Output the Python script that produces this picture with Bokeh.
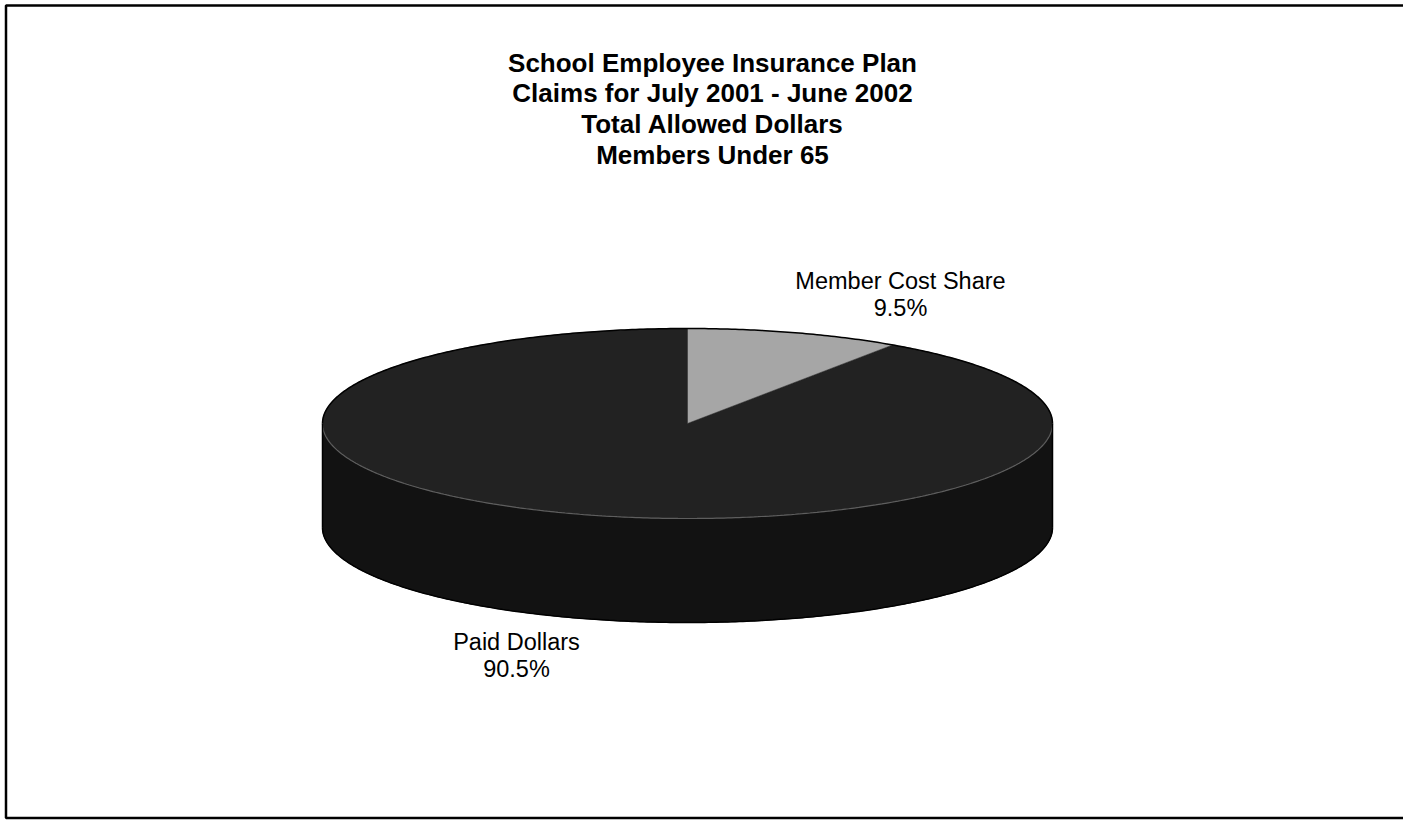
import numpy as np
from bokeh.plotting import figure
from bokeh.models import Range1d
from bokeh.core.properties import value
from bokeh.embed import file_html
from bokeh.resources import INLINE

# ---- data ----
title_lines = ["School Employee Insurance Plan",
               "Claims for July 2001 - June 2002",
               "Total Allowed Dollars",
               "Members Under 65"]
categories = ["Member Cost Share", "Paid Dollars"]
shares = [9.5, 90.5]

# ---- layout / style ----
W, H = 1403, 820
cx, cy, a, b, depth = 687, 423, 365, 95, 104
top_colors = ["#a6a6a6", "#222222"]
side_colors = ["#7a7a7a", "#121212"]
label_pos = [(900, 280), (516, 641)]
label_gap = 27
FONT = value("Liberation Sans")

p = figure(width=W, height=H, x_range=Range1d(0, W), y_range=Range1d(H, 0),
           output_backend="svg", toolbar_location=None, min_border=0)
p.axis.visible = False
p.grid.visible = False
p.outline_line_color = None
p.background_fill_color = "white"
p.border_fill_color = "white"

def pt(t, dy=0.0):
    return cx + a * np.cos(t), cy - b * np.sin(t) + dy

# slice angle ranges: start at 12 o'clock, clockwise
starts, ends = [], []
ang = np.pi / 2
for s in shares:
    sweep = 2 * np.pi * s / 100.0
    starts.append(ang)
    ends.append(ang - sweep)
    ang -= sweep

# side (front half: angles where sin < 0)
for i in range(len(shares)):
    hi, lo = starts[i], ends[i]
    for k in range(-2, 2):
        f_lo, f_hi = -np.pi + 2 * np.pi * k, 0 + 2 * np.pi * k
        s_lo, s_hi = max(lo, f_lo), min(hi, f_hi)
        if s_hi - s_lo > 1e-6:
            t = np.linspace(s_lo, s_hi, 200)
            xt, yt = pt(t)
            xb, yb = pt(t[::-1], depth)
            xs = np.concatenate([xt, xb])
            ys = np.concatenate([yt, yb])
            p.patch(xs, ys, fill_color=side_colors[i], line_color=side_colors[i], line_width=1)

# top wedges
for i in range(len(shares)):
    t = np.linspace(starts[i], ends[i], 400)
    xt, yt = pt(t)
    xs = np.concatenate([[cx], xt])
    ys = np.concatenate([[cy], yt])
    p.patch(xs, ys, fill_color=top_colors[i], line_color=top_colors[i], line_width=0.5)

# rim lines
t = np.linspace(0, np.pi, 300)
x, y = pt(t)
p.line(x, y, line_color="black", line_width=1.5)
t = np.linspace(np.pi, 2 * np.pi, 300)
x, y = pt(t)
p.line(x, y, line_color="#5e5e5e", line_width=1.2)
x, y = pt(t, depth)
p.line(x, y, line_color="black", line_width=1.5)
p.line([cx - a, cx - a], [cy, cy + depth], line_color="black", line_width=1.5)
p.line([cx + a, cx + a], [cy, cy + depth], line_color="black", line_width=1.5)

# title
for j, line in enumerate(title_lines):
    p.text(x=[712], y=[62 + 30.7 * j], text=[line], text_font=FONT,
           text_font_style="bold", text_font_size="26px", text_color="black",
           text_align="center", text_baseline="middle")

# labels
for i, cat in enumerate(categories):
    lx, ly = label_pos[i]
    p.text(x=[lx, lx], y=[ly, ly + label_gap], text=[cat, f"{shares[i]}%"], text_font=FONT,
           text_font_size="23.5px", text_color="black",
           text_align="center", text_baseline="middle")

# frame border
p.line([1410, 5.5, 5.5, 1410], [5, 5, 817.5, 817.5], line_color="black", line_width=2.5)

open("out.html", "w").write(file_html(p, INLINE))
